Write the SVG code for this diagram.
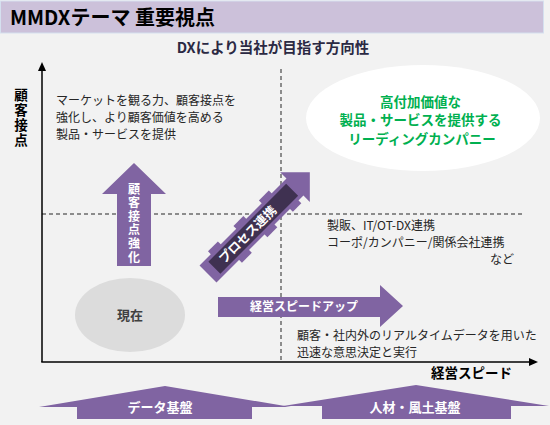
<svg xmlns="http://www.w3.org/2000/svg" width="550" height="425" viewBox="0 0 550 425">
<style>
  text { font-family: "Noto Sans CJK JP", "Noto Sans", sans-serif; }
  .body { font-size: 12px; fill: #262626; }
  .bold { font-weight: bold; }
  .white { fill: #ffffff; font-weight: bold; }
  .purple { fill: #8064a2; }
  .dash { stroke: #262626; stroke-width: 1; stroke-dasharray: 4 3; fill: none; }
  .axis { stroke: #000000; stroke-width: 1.5; fill: none; }
  .vert { writing-mode: vertical-rl; text-orientation: upright; }
</style>
<rect x="0" y="0" width="550" height="425" fill="#f2f2f2"/>

<g id="title">
  <rect x="0.5" y="1" width="543" height="32" fill="#ccc1da" stroke="#d5e0ef" stroke-width="1"/>
  <text x="10" y="25" font-size="20" font-weight="bold" fill="#000">MMDXテーマ 重要視点</text>
</g>
<g id="subtitle">
  <text x="273" y="53" font-size="14.5" font-weight="bold" fill="#2b2943" text-anchor="middle">DXにより当社が目指す方向性</text>
</g>

<g id="connectors">
  <line class="dash" x1="42" y1="214" x2="525" y2="214"/>
  <line class="dash" x1="281" y1="69" x2="281" y2="362"/>
  <line class="axis" x1="42" y1="70" x2="42" y2="362"/>
  <line class="axis" x1="41.25" y1="362" x2="530" y2="362"/>
  <polygon points="42,62 38,71 46,71" fill="#000"/>
  <polygon points="538,362 529,358 529,366" fill="#000"/>
</g>

<g id="y-label">
  <text class="bold vert" x="21" y="88" font-size="13.5" letter-spacing="1.5" fill="#000">顧客接点</text>
</g>
<g id="x-label">
  <text x="512" y="378" font-size="13.5" font-weight="bold" fill="#000" text-anchor="end">経営スピード</text>
</g>

<g id="text-customer">
  <text class="body" font-size="12.2">
    <tspan x="56" y="105">マーケットを観る力、顧客接点を</tspan>
    <tspan x="56" y="122">強化し、より顧客価値を高める</tspan>
    <tspan x="56" y="139">製品・サービスを提供</tspan>
  </text>
</g>

<g id="goal">
  <ellipse cx="423" cy="118" rx="117" ry="53" fill="#ffffff"/>
  <text font-size="13.5" font-weight="bold" fill="#00b050" text-anchor="middle">
    <tspan x="422" y="106.5">高付加価値な</tspan>
    <tspan x="422" y="125">製品・サービスを提供する</tspan>
    <tspan x="422" y="143.5">リーディングカンパニー</tspan>
  </text>
</g>

<g id="text-process">
  <text class="body" font-size="12.5">
    <tspan x="327" y="230">製販、IT/OT-DX連携</tspan>
    <tspan x="327" y="247">コーポ/カンパニー/関係会社連携</tspan>
  </text>
  <text class="body" font-size="12.5" x="514" y="264" text-anchor="end">など</text>
</g>

<g id="text-speed">
  <text class="body" font-size="11.1">
    <tspan x="297" y="340">顧客・社内外のリアルタイムデータを用いた</tspan>
    <tspan x="297" y="357">迅速な意思決定と実行</tspan>
  </text>
</g>

<g id="current">
  <ellipse cx="130" cy="315" rx="55" ry="37" fill="#dcdcdc"/>
  <text x="130" y="320" font-size="13" font-weight="bold" fill="#404040" text-anchor="middle">現在</text>
</g>

<g id="arrow-customer">
  <polygon class="purple" points="134,163 166,194 151,194 151,266 117,266 117,194 102,194"/>
  <text class="white vert" x="134" y="183" font-size="12" letter-spacing="1.6">顧客接点強化</text>
</g>

<g id="arrow-process" transform="translate(208,274) rotate(-45)">
  <polygon class="purple" points="0,-12 123,-12 123,-21 144,0 123,21 123,12 0,12"/>
  <rect class="purple" x="16" y="-16" width="14" height="5"/>
  <rect class="purple" x="52" y="-16" width="14" height="5"/>
  <rect class="purple" x="88" y="-16" width="14" height="5"/>
  <rect class="purple" x="32" y="11" width="14" height="5"/>
  <rect class="purple" x="68" y="11" width="14" height="5"/>
  <rect class="purple" x="104" y="11" width="12" height="5"/>
  <rect x="9" y="-8.5" width="110" height="17" fill="#3f3151"/>
  <text class="white" x="56" y="4.5" font-size="12.5" text-anchor="middle">プロセス連携</text>
</g>

<g id="arrow-speed">
  <polygon class="purple" points="218,297 380,297 380,285 403,306 380,327 380,317 218,317"/>
  <text class="white" x="304" y="311" font-size="12" text-anchor="middle">経営スピードアップ</text>
</g>

<g id="base-data">
  <polygon class="purple" points="165,386 291,407 252,407 252,419 77,419 77,407 39,407"/>
  <text class="white" x="160" y="412" font-size="13" font-weight="normal" text-anchor="middle">データ基盤</text>
</g>
<g id="base-people">
  <polygon class="purple" points="416,385 549,406 511,406 511,419 322,419 322,406 283,406"/>
  <text class="white" x="415" y="412" font-size="13" text-anchor="middle">人材・風土基盤</text>
</g>
</svg>
